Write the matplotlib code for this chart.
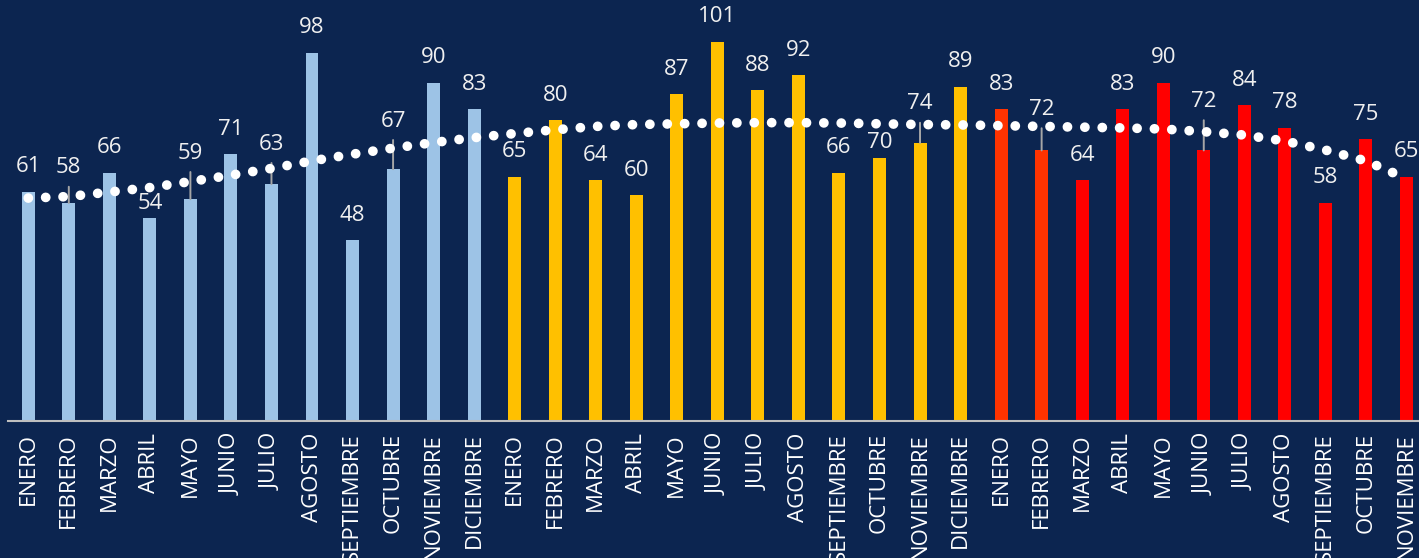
import matplotlib

matplotlib.use("Agg")
import matplotlib.pyplot as plt

MONTHS = ["ENERO", "FEBRERO", "MARZO", "ABRIL", "MAYO", "JUNIO", "JULIO",
          "AGOSTO", "SEPTIEMBRE", "OCTUBRE", "NOVIEMBRE", "DICIEMBRE"]
month_labels = MONTHS + MONTHS + MONTHS[:11]

year1 = [61, 58, 66, 54, 59, 71, 63, 98, 48, 67, 90, 83]
year2 = [65, 80, 64, 60, 87, 101, 88, 92, 66, 70, 74, 89]
year3 = [83, 72, 64, 83, 90, 72, 84, 78, 58, 75, 65]

# trend line at each bar position
trend = [59.3, 59.7, 60.9, 62.1, 63.7, 65.4, 67.2, 69.2, 71.0, 72.6, 74.1, 75.4,
         76.5, 77.5, 78.4, 78.9, 79.1, 79.3, 79.4, 79.4, 79.3, 79.1, 78.9, 78.8,
         78.6, 78.4, 78.2, 78.0, 77.7, 77.0, 76.1, 74.5, 72.1, 69.2, 64.5]

BG = "#0c2550"
C_YEAR1 = "#9dc3e6"
C_YEAR2 = "#ffc000"
C_YEAR3_EARLY = "#ff3300"
C_YEAR3 = "#ff0000"

values = year1 + year2 + year3
colors = ([C_YEAR1] * len(year1) + [C_YEAR2] * len(year2)
          + [C_YEAR3_EARLY] * 2 + [C_YEAR3] * (len(year3) - 2))

# label offsets (pixels above bar top); entries with leader lines sit higher
DEFAULT_OFF = 25
label_off = {1: 35, 3: 14, 4: 46, 6: 40, 9: 48, 21: 15, 22: 39, 25: 41, 29: 49}
leaders = {1, 4, 6, 9, 22, 25, 29}

W, H = 1419, 558
fig = plt.figure(figsize=(W / 100, H / 100), dpi=100, facecolor=BG)
ax = fig.add_axes([8 / W, 137.5 / H, (W - 8) / W, 420.5 / H])
ax.set_facecolor(BG)

x = list(range(len(values)))
ax.bar(x, values, width=0.32, color=colors, zorder=2)

for i, v in enumerate(values):
    off = label_off.get(i, DEFAULT_OFF)
    kw = {}
    if i in leaders:
        kw["arrowprops"] = dict(arrowstyle="-", color="#a6a6a6", lw=1.4,
                                shrinkA=4, shrinkB=0)
    ax.annotate(str(v), xy=(i, v), xytext=(0, off), textcoords="offset pixels",
                ha="center", va="center", fontsize=16, color="#f0f0f0",
                family="Open Sans", zorder=3, **kw)

ax.plot(x, trend, color="white", lw=7, linestyle=(0, (0.01, 1.78)),
        dash_capstyle="round", zorder=4)

ax.set_xlim(-0.5, 34.31)
ax.set_ylim(0, 112.1)
ax.set_xticks(x)
ax.set_xticklabels(month_labels, rotation=90, fontsize=16, color="white",
                   family="Open Sans", va="top")
ax.tick_params(axis="x", length=0, pad=9)
ax.set_yticks([])
for side in ("top", "left", "right"):
    ax.spines[side].set_visible(False)
ax.spines["bottom"].set_color("#bfbfbf")
ax.spines["bottom"].set_linewidth(1.5)

fig.savefig("out.png", facecolor=BG)
